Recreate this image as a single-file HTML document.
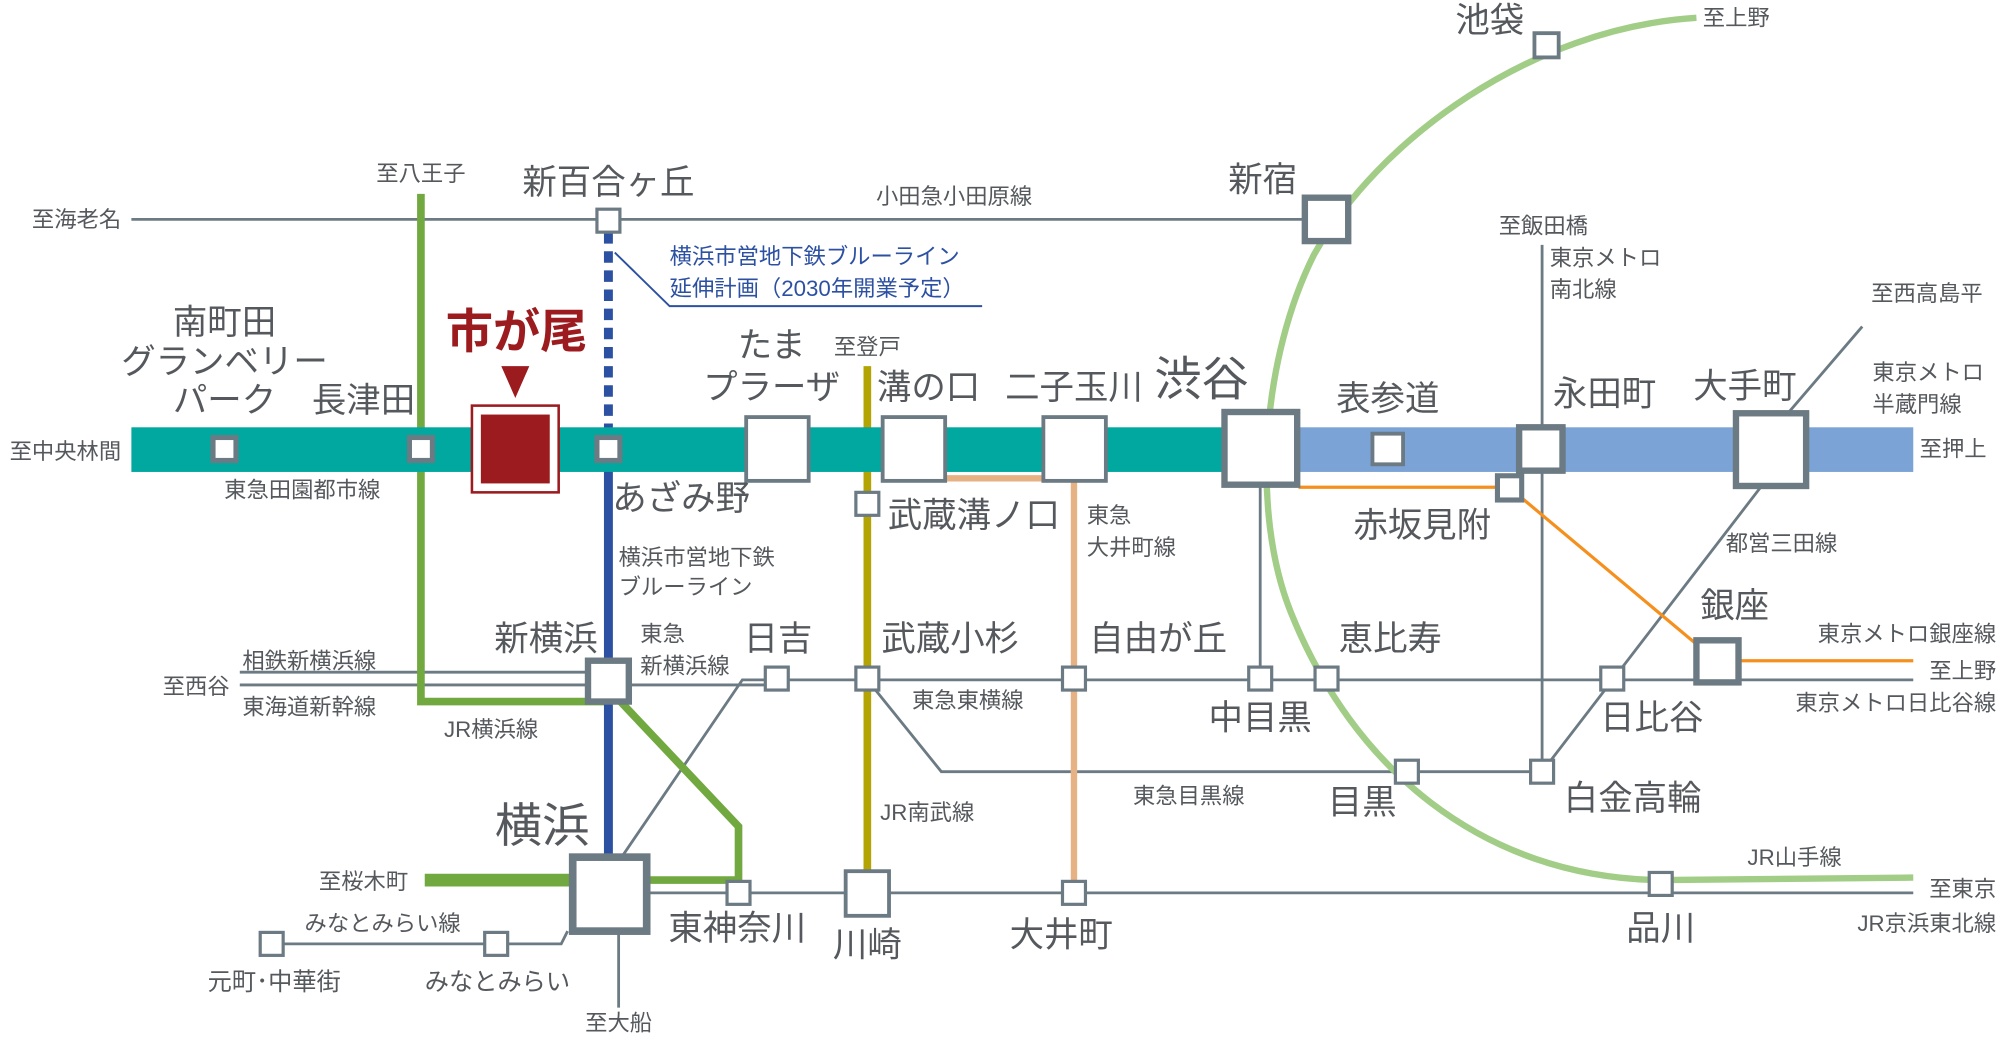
<!DOCTYPE html>
<html><head><meta charset="utf-8"><style>
html,body{margin:0;padding:0;background:#fff;}
svg{display:block;}
text{font-family:"Liberation Sans","Noto Sans CJK JP",sans-serif;fill:#55595d;}
.s{font-size:17.5px}.m{font-size:27px}.l{font-size:37px}
.c{text-anchor:middle}.e{text-anchor:end}
</style></head><body>
<svg width="2000" height="1037" viewBox="0 0 1568 813" xmlns="http://www.w3.org/2000/svg">
<g fill="none" stroke="#6b7a83" stroke-width="2.2">
<line x1="103" y1="172" x2="1030" y2="172"/>
<line x1="188" y1="527" x2="470" y2="527"/>
<line x1="188" y1="537" x2="470" y2="537"/>
<line x1="477" y1="537" x2="609" y2="537"/>
<polyline points="486,674 582,533 1340,533"/>
<line x1="1360" y1="533" x2="1500" y2="533"/>
<polyline points="680,533 738,605 1209,605"/>
<line x1="1209" y1="192" x2="1209" y2="605"/>
<line x1="1209" y1="605" x2="1388" y2="372"/>
<line x1="1388" y1="340" x2="1460" y2="256"/>
<line x1="988" y1="380" x2="988" y2="533"/>
<line x1="477" y1="700" x2="1500" y2="700"/>
<polyline points="213,740 440,740 445,730"/>
<line x1="485" y1="730" x2="485" y2="790"/>
</g>
<path d="M1330,14 C1200,22 1080,110 1030,200 C990,280 980,400 1012,480 C1060,600 1160,688 1302,690 L1500,688" fill="none" stroke="#a1cd86" stroke-width="5"/>
<g fill="none" stroke="#f5901e" stroke-width="2.5">
<polyline points="1018,382 1183,382 1330,505"/>
<line x1="1365" y1="518" x2="1500" y2="518"/>
</g>
<polyline points="742,375 842,375 842,700" fill="none" stroke="#e6b284" stroke-width="5"/>
<line x1="680" y1="287" x2="680" y2="690" stroke="#b3a404" stroke-width="6"/>
<polyline points="330,152 330,550 477,550" fill="none" stroke="#71a83f" stroke-width="6"/>
<polyline points="477,540 579,648 579,690 500,690" fill="none" stroke="#71a83f" stroke-width="6"/>
<line x1="333" y1="690" x2="450" y2="690" stroke="#71a83f" stroke-width="10"/>
<line x1="477" y1="352" x2="477" y2="690" stroke="#2c50a2" stroke-width="7"/>
<line x1="477" y1="182" x2="477" y2="340" stroke="#2c50a2" stroke-width="7" stroke-dasharray="9,6"/>
<polyline points="482,198 525,240 770,240" fill="none" stroke="#2c50a2" stroke-width="1.5"/>
<rect x="103" y="335" width="870" height="35" fill="#00a8a0"/>
<rect x="990" y="335" width="510" height="35" fill="#7ba3d6"/>
<g fill="#fff" stroke="#6b7a83">
<rect x="1203" y="26" width="19" height="19" stroke-width="3"/>
<rect x="1023" y="155" width="34" height="34" stroke-width="5"/>
<rect x="468" y="164" width="18" height="18" stroke-width="2.5"/>
<rect x="167" y="343" width="18" height="18" stroke-width="4"/>
<rect x="321" y="343" width="18" height="18" stroke-width="4"/>
<rect x="468" y="343" width="18" height="18" stroke-width="4"/>
<rect x="585" y="327" width="49" height="50" stroke-width="3"/>
<rect x="692" y="327" width="49" height="50" stroke-width="3"/>
<rect x="818" y="327" width="49" height="50" stroke-width="3"/>
<rect x="960" y="323" width="57" height="57" stroke-width="5"/>
<rect x="1076" y="340" width="24" height="24" stroke-width="3"/>
<rect x="1191" y="335" width="34" height="34" stroke-width="5"/>
<rect x="1174" y="373" width="19" height="19" stroke-width="4"/>
<rect x="1361" y="324" width="55" height="57" stroke-width="5"/>
<rect x="671" y="386" width="18" height="18" stroke-width="2.5"/>
<rect x="461" y="518" width="32" height="32" stroke-width="5"/>
<rect x="600" y="523" width="18" height="18" stroke-width="2.5"/>
<rect x="671" y="523" width="18" height="18" stroke-width="2.5"/>
<rect x="833" y="523" width="18" height="18" stroke-width="2.5"/>
<rect x="979" y="523" width="18" height="18" stroke-width="2.5"/>
<rect x="1031" y="523" width="18" height="18" stroke-width="2.5"/>
<rect x="1255" y="523" width="18" height="18" stroke-width="2.5"/>
<rect x="1330" y="502" width="33" height="33" stroke-width="5"/>
<rect x="1094" y="596" width="18" height="18" stroke-width="2.5"/>
<rect x="1200" y="596" width="18" height="18" stroke-width="2.5"/>
<rect x="449" y="672" width="58" height="58" stroke-width="6"/>
<rect x="570" y="691" width="18" height="18" stroke-width="2.5"/>
<rect x="663" y="683" width="34" height="35" stroke-width="3"/>
<rect x="833" y="691" width="18" height="18" stroke-width="2.5"/>
<rect x="1293" y="684" width="18" height="18" stroke-width="2.5"/>
<rect x="204" y="731" width="18" height="18" stroke-width="2.5"/>
<rect x="380" y="731" width="18" height="18" stroke-width="2.5"/>
</g>
<rect x="370" y="318" width="68" height="68" fill="#fff" stroke="#9b1b1f" stroke-width="2"/>
<rect x="377" y="325" width="54" height="54" fill="#9b1b1f"/>
<polygon points="393,287 415,287 404,312" fill="#9b1b1f"/>
<text x="405" y="273" class="c" style="font-size:37px;font-weight:bold;fill:#9b1b1f">市が尾</text>
<text x="330" y="142" class="s c">至八王子</text>
<text x="477" y="152" class="m c">新百合ヶ丘</text>
<text x="95" y="178" class="s e">至海老名</text>
<text x="748" y="160" class="s c">小田急小田原線</text>
<text x="990" y="150" class="m c">新宿</text>
<text x="1168" y="25" class="m c">池袋</text>
<text x="1335" y="20" class="s">至上野</text>
<text x="525" y="207" class="s" style="fill:#2c50a2">横浜市営地下鉄ブルーライン</text>
<text x="525" y="232" class="s" style="fill:#2c50a2">延伸計画（2030年開業予定）</text>
<text x="176" y="262" class="m c">南町田</text>
<text x="176" y="293" class="m c">グランベリー</text>
<text x="176" y="323" class="m c">パーク</text>
<text x="285" y="323" class="m c">長津田</text>
<text x="95" y="360" class="s e">至中央林間</text>
<text x="237" y="390" class="s c">東急田園都市線</text>
<text x="605" y="280" class="m c">たま</text>
<text x="605" y="313" class="m c">プラーザ</text>
<text x="680" y="278" class="s c">至登戸</text>
<text x="728" y="313" class="m c">溝の口</text>
<text x="842" y="313" class="m c">二子玉川</text>
<text x="942" y="310" class="l c">渋谷</text>
<text x="1088" y="322" class="m c">表参道</text>
<text x="1258" y="318" class="m c">永田町</text>
<text x="1368" y="312" class="m c">大手町</text>
<text x="1210" y="183" class="s c">至飯田橋</text>
<text x="1215" y="208" class="s">東京メトロ</text>
<text x="1215" y="233" class="s">南北線</text>
<text x="1467" y="236" class="s">至西高島平</text>
<text x="1468" y="298" class="s">東京メトロ</text>
<text x="1468" y="323" class="s">半蔵門線</text>
<text x="1505" y="358" class="s">至押上</text>
<text x="480" y="400" class="m">あざみ野</text>
<text x="696" y="413" class="m">武蔵溝ノ口</text>
<text x="852" y="410" class="s">東急</text>
<text x="852" y="435" class="s">大井町線</text>
<text x="1115" y="421" class="m c">赤坂見附</text>
<text x="1353" y="432" class="s">都営三田線</text>
<text x="485" y="443" class="s">横浜市営地下鉄</text>
<text x="485" y="466" class="s">ブルーライン</text>
<text x="428" y="510" class="m c">新横浜</text>
<text x="502" y="503" class="s">東急</text>
<text x="502" y="528" class="s">新横浜線</text>
<text x="610" y="510" class="m c">日吉</text>
<text x="745" y="510" class="m c">武蔵小杉</text>
<text x="908" y="510" class="m c">自由が丘</text>
<text x="1090" y="510" class="m c">恵比寿</text>
<text x="1360" y="484" class="m c">銀座</text>
<text x="1565" y="503" class="s e">東京メトロ銀座線</text>
<text x="1565" y="532" class="s e">至上野</text>
<text x="1565" y="557" class="s e">東京メトロ日比谷線</text>
<text x="190" y="524" class="s">相鉄新横浜線</text>
<text x="190" y="560" class="s">東海道新幹線</text>
<text x="180" y="544" class="s e">至西谷</text>
<text x="385" y="578" class="s c">JR横浜線</text>
<text x="715" y="555" class="s">東急東横線</text>
<text x="988" y="572" class="m c">中目黒</text>
<text x="1295" y="572" class="m c">日比谷</text>
<text x="932" y="630" class="s c">東急目黒線</text>
<text x="1068" y="638" class="m c">目黒</text>
<text x="1280" y="635" class="m c">白金高輪</text>
<text x="690" y="643" class="s">JR南武線</text>
<text x="425" y="660" class="l c">横浜</text>
<text x="1370" y="678" class="s">JR山手線</text>
<text x="1565" y="703" class="s e">至東京</text>
<text x="1565" y="730" class="s e">JR京浜東北線</text>
<text x="320" y="697" class="s e">至桜木町</text>
<text x="300" y="730" class="s c">みなとみらい線</text>
<text x="578" y="737" class="m c">東神奈川</text>
<text x="680" y="750" class="m c">川崎</text>
<text x="832" y="742" class="m c">大井町</text>
<text x="1302" y="737" class="m c">品川</text>
<text x="215" y="776" class="c" style="font-size:19px">元町･中華街</text>
<text x="390" y="776" class="c" style="font-size:19px">みなとみらい</text>
<text x="485" y="808" class="s c">至大船</text>
</svg>
</body></html>
